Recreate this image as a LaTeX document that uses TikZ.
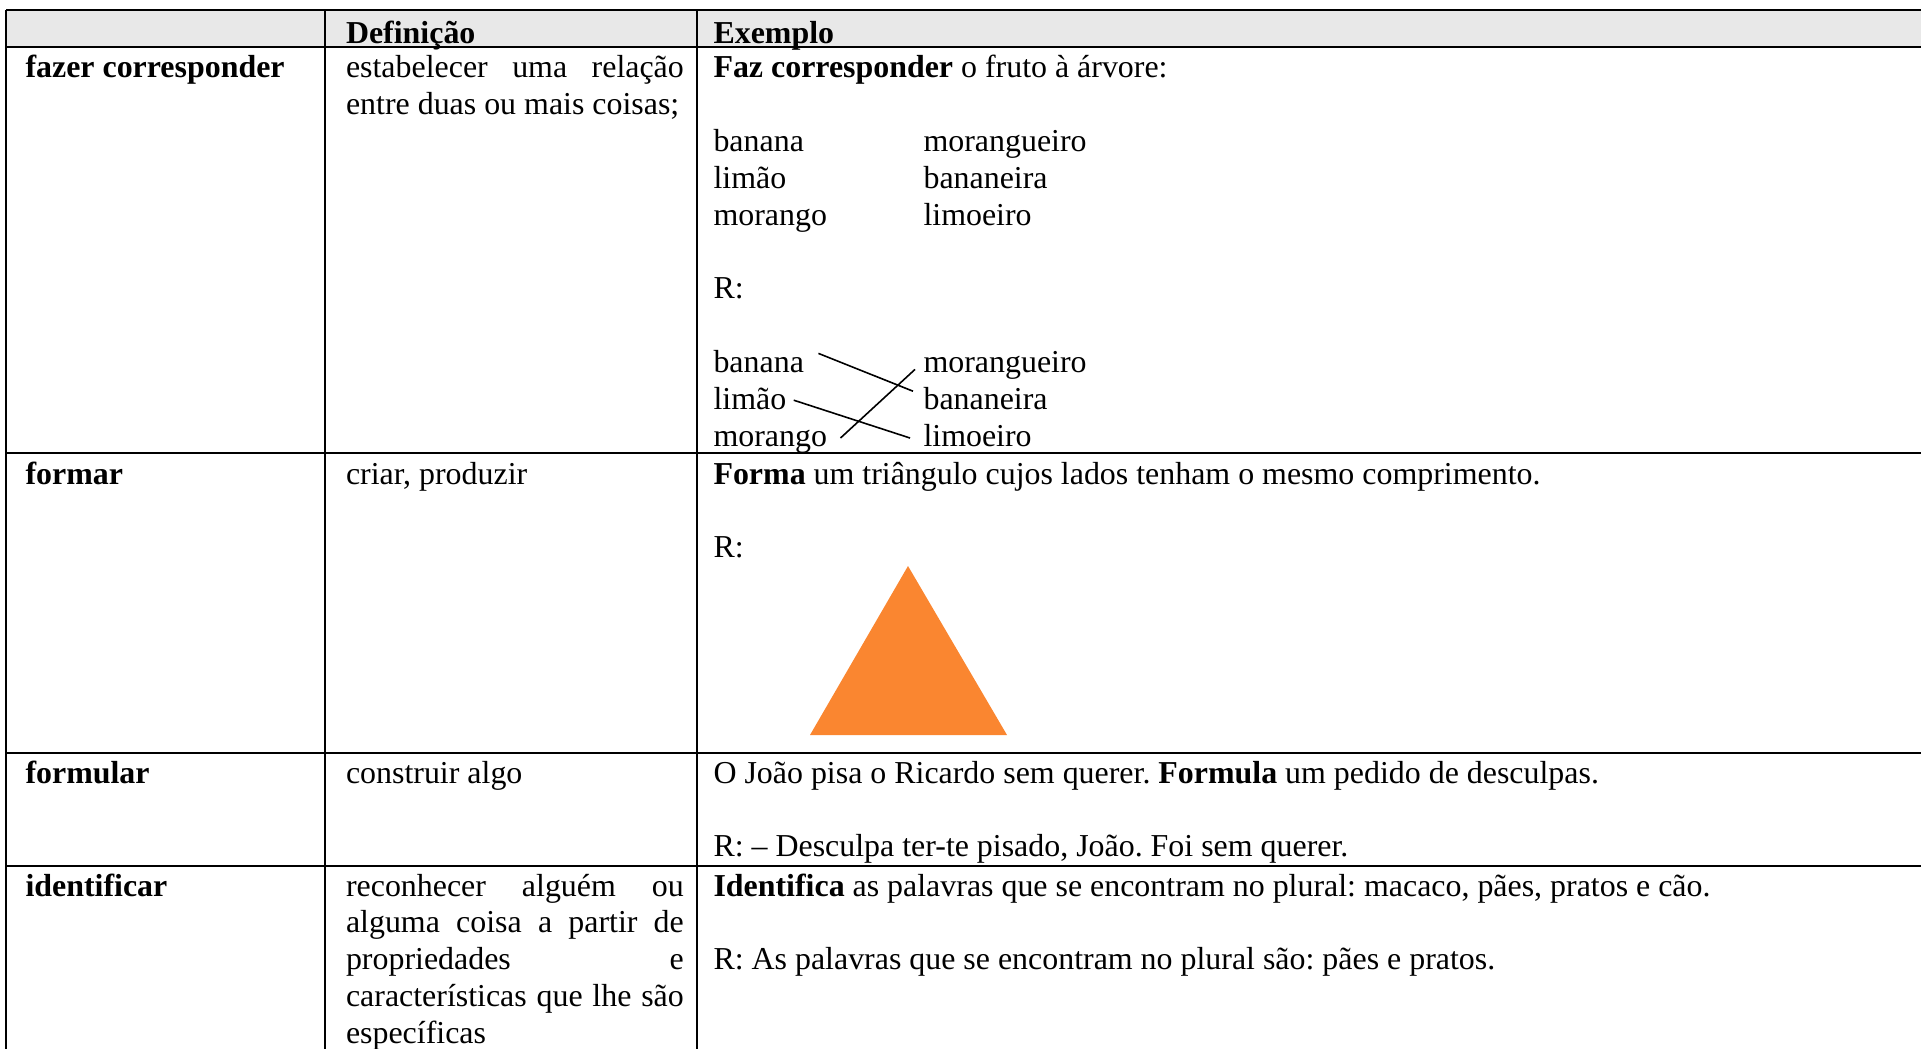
\documentclass[tikz,border=0pt]{standalone}
\usepackage{fontspec}
\setmainfont{Liberation Serif}
\definecolor{headgray}{RGB}{232,232,232}
\definecolor{triorange}{RGB}{250,134,48}
\tikzset{
    txt/.style={anchor=base west, inner sep=0pt, font=\fontsize{12}{13.8}\selectfont\frenchspacing},
    rule/.style={line width=0.9pt},
    match/.style={line width=0.6pt}
}

\begin{document}
\begin{tikzpicture}[x=0.376pt, y=-0.376pt]
            \useasboundingbox (0,0) rectangle (1921,1048.5);
            % grelha da tabela
            \fill[headgray] (6,10) rectangle (1921,47);
            \foreach \y in {10, 47, 453, 753, 866}
                \draw[rule] (6,\y) -- (1921,\y);
            \foreach \x in {6, 325, 697}
                \draw[rule] (\x,10) -- (\x,1048.5);
            \node[txt] (hdef) at (345.5,44) {\textbf{Definição}};
            \node[txt] (hex) at (713,44) {\textbf{Exemplo}};
            % fazer corresponder
            \node[txt] (t1) at (25,78) {\textbf{fazer corresponder}};
            \node[txt] (d1a) at (345.5,78) {\makebox[127pt][s]{estabelecer uma relação}};
            \node[txt] (d1b) at (345.5,114.8) {entre duas ou mais coisas;};
            \node[txt] (e1) at (713,78) {\textbf{Faz corresponder} o fruto à árvore:};
            \foreach \fr/\tr [count=\i] in {banana/morangueiro, limão/bananeira, morango/limoeiro} {
                \node[txt] (fa\i) at (713,{114.8+36.8*\i}) {\fr};
                \node[txt] (ta\i) at (923,{114.8+36.8*\i}) {\tr};
                \node[txt] (fb\i) at (713,{335.6+36.8*\i}) {\fr};
                \node[txt] (tb\i) at (923,{335.6+36.8*\i}) {\tr};
            }
            \node[txt] (r1) at (713,298.8) {R:};
            \draw[match] ([shift={(14,-19)}]fb1.base east) -- ([shift={(-10,-18)}]tb2.base west);
            \draw[match] ([shift={(7,-9)}]fb2.base east) -- ([shift={(-13,-8)}]tb3.base west);
            \draw[match] ([shift={(13,-8)}]fb3.base east) -- ([shift={(-8,-3)}]tb1.base west);
            % formar
            \node[txt] (t2) at (25,484) {\textbf{formar}};
            \node[txt] (d2) at (345.5,484) {criar, produzir};
            \node[txt] (e2) at (713,484) {\textbf{Forma} um triângulo cujos lados tenham o mesmo comprimento.};
            \node[txt] (r2) at (713,557.5) {R:};
            \fill[triorange] (810,735) -- (1007,735) -- (908,566) -- cycle;
            % formular
            \node[txt] (t3) at (25,783) {\textbf{formular}};
            \node[txt] (d3) at (345.5,783) {construir algo};
            \node[txt] (e3) at (713,783) {O João pisa o Ricardo sem querer. \textbf{Formula} um pedido de desculpas.};
            \node[txt] (r3) at (713,856) {R: – Desculpa ter-te pisado, João. Foi sem querer.};
            % identificar
            \node[txt] (t4) at (25,896) {\textbf{identificar}};
            \foreach \ln [count=\i] in {reconhecer alguém ou, alguma coisa a partir de, propriedades e, características que lhe são}
                \node[txt] (d4\i) at (345.5,{859.2+36.8*\i}) {\makebox[127pt][s]{\ln}};
            \node[txt] (d45) at (345.5,1043.5) {específicas};
            \node[txt] (e4) at (713,896) {\textbf{Identifica} as palavras que se encontram no plural: macaco, pães, pratos e cão.};
            \node[txt] (r4) at (713,969.6) {R: As palavras que se encontram no plural são: pães e pratos.};
\end{tikzpicture}
\end{document}
